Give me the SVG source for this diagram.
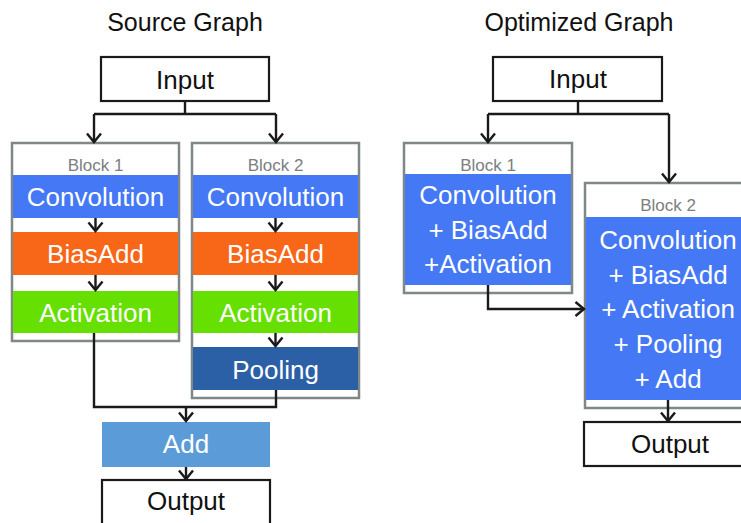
<svg xmlns="http://www.w3.org/2000/svg" width="741" height="523" viewBox="0 0 741 523">
<defs>
<style>
text{font-family:"Liberation Sans",Arial,sans-serif;text-anchor:middle}
.title{font-size:25px;fill:#111}
.lbl{font-size:26px;fill:#111}
.wl{font-size:26px;fill:#fff}
.blk{font-size:17px;fill:#7a8080}
.box{fill:#fff;stroke:#1a1a1a;stroke-width:2.2}
.block{fill:#fff;stroke:#7f8787;stroke-width:2.5}
.conv{fill:#4478f5}
.bias{fill:#f86618}
.act{fill:#66e000}
.pool{fill:#2b60a6}
.add{fill:#5b9bd8}
.ln{fill:none;stroke:#1a1a1a;stroke-width:2.4}
</style>
<marker id="ah" viewBox="0 0 10 15" refX="9" refY="7.5" markerWidth="10" markerHeight="15" markerUnits="userSpaceOnUse" orient="auto" overflow="visible">
<path d="M0.5,0.5 L9,7.5 L0.5,14.5" fill="none" stroke="#1a1a1a" stroke-width="2.4"/>
</marker>
</defs>
<rect width="741" height="523" fill="#fff"/>
<text class="title" x="185" y="31">Source Graph</text>
<text class="title" x="579" y="31">Optimized Graph</text>

<g id="src-input"><rect class="box" x="101" y="57" width="168" height="44"/><text class="lbl" x="185" y="89">Input</text></g>

<g id="src-block1">
<rect class="block" x="12" y="143" width="167" height="198"/>
<text class="blk" x="95.5" y="171">Block 1</text>
<rect class="conv" x="13" y="175" width="165" height="43"/><text class="wl" x="95.5" y="206">Convolution</text>
<rect class="bias" x="13" y="232" width="165" height="43"/><text class="wl" x="95.5" y="263">BiasAdd</text>
<rect class="act" x="13" y="291" width="165" height="42"/><text class="wl" x="95.5" y="322">Activation</text>
</g>

<g id="src-block2">
<rect class="block" x="192" y="143" width="167" height="255"/>
<text class="blk" x="275.5" y="171">Block 2</text>
<rect class="conv" x="193" y="175" width="165" height="43"/><text class="wl" x="275.5" y="206">Convolution</text>
<rect class="bias" x="193" y="232" width="165" height="43"/><text class="wl" x="275.5" y="263">BiasAdd</text>
<rect class="act" x="193" y="291" width="165" height="42"/><text class="wl" x="275.5" y="322">Activation</text>
<rect class="pool" x="193" y="347" width="165" height="43"/><text class="wl" x="275.5" y="379">Pooling</text>
</g>

<g id="src-add"><rect class="add" x="102" y="422" width="168" height="45"/><text class="wl" x="186" y="453">Add</text></g>
<g id="src-output"><rect class="box" x="102" y="480" width="168" height="46"/><text class="lbl" x="186" y="510">Output</text></g>

<g id="opt-input"><rect class="box" x="493" y="57" width="169" height="44"/><text class="lbl" x="578" y="88">Input</text></g>

<g id="opt-block1">
<rect class="block" x="404" y="143" width="168" height="150"/>
<text class="blk" x="488" y="171">Block 1</text>
<rect class="conv" x="405" y="174" width="166" height="111"/>
<text class="wl" x="488" y="204">Convolution</text>
<text class="wl" x="488" y="239">+ BiasAdd</text>
<text class="wl" x="488" y="273">+Activation</text>
</g>

<g id="opt-block2">
<rect class="block" x="585" y="183" width="167" height="225"/>
<text class="blk" x="668" y="211">Block 2</text>
<rect class="conv" x="586" y="217" width="165" height="183"/>
<text class="wl" x="668" y="249">Convolution</text>
<text class="wl" x="668" y="284">+ BiasAdd</text>
<text class="wl" x="668" y="318">+ Activation</text>
<text class="wl" x="668" y="353">+ Pooling</text>
<text class="wl" x="668" y="388">+ Add</text>
</g>

<g id="opt-output"><rect class="box" x="584" y="422" width="168" height="44"/><text class="lbl" x="670" y="453">Output</text></g>

<g id="connectors">
<path class="ln" d="M185,101 V114"/>
<path class="ln" d="M94,114 H276"/>
<path class="ln" d="M94,114 V142" marker-end="url(#ah)"/>
<path class="ln" d="M276,114 V142" marker-end="url(#ah)"/>
<path class="ln" d="M95.5,218 V231" marker-end="url(#ah)"/>
<path class="ln" d="M95.5,275 V290" marker-end="url(#ah)"/>
<path class="ln" d="M275.5,218 V231" marker-end="url(#ah)"/>
<path class="ln" d="M275.5,275 V290" marker-end="url(#ah)"/>
<path class="ln" d="M275.5,333 V346" marker-end="url(#ah)"/>
<path class="ln" d="M94,333 V407 H276 V390"/>
<path class="ln" d="M186,407 V421" marker-end="url(#ah)"/>
<path class="ln" d="M186,467 V479" marker-end="url(#ah)"/>

<path class="ln" d="M578,101 V114"/>
<path class="ln" d="M488,114 H669"/>
<path class="ln" d="M488,114 V142" marker-end="url(#ah)"/>
<path class="ln" d="M669,114 V182" marker-end="url(#ah)"/>
<path class="ln" d="M488,285 V309 H584" marker-end="url(#ah)"/>
<path class="ln" d="M668,400 V421" marker-end="url(#ah)"/>
</g>
</svg>
